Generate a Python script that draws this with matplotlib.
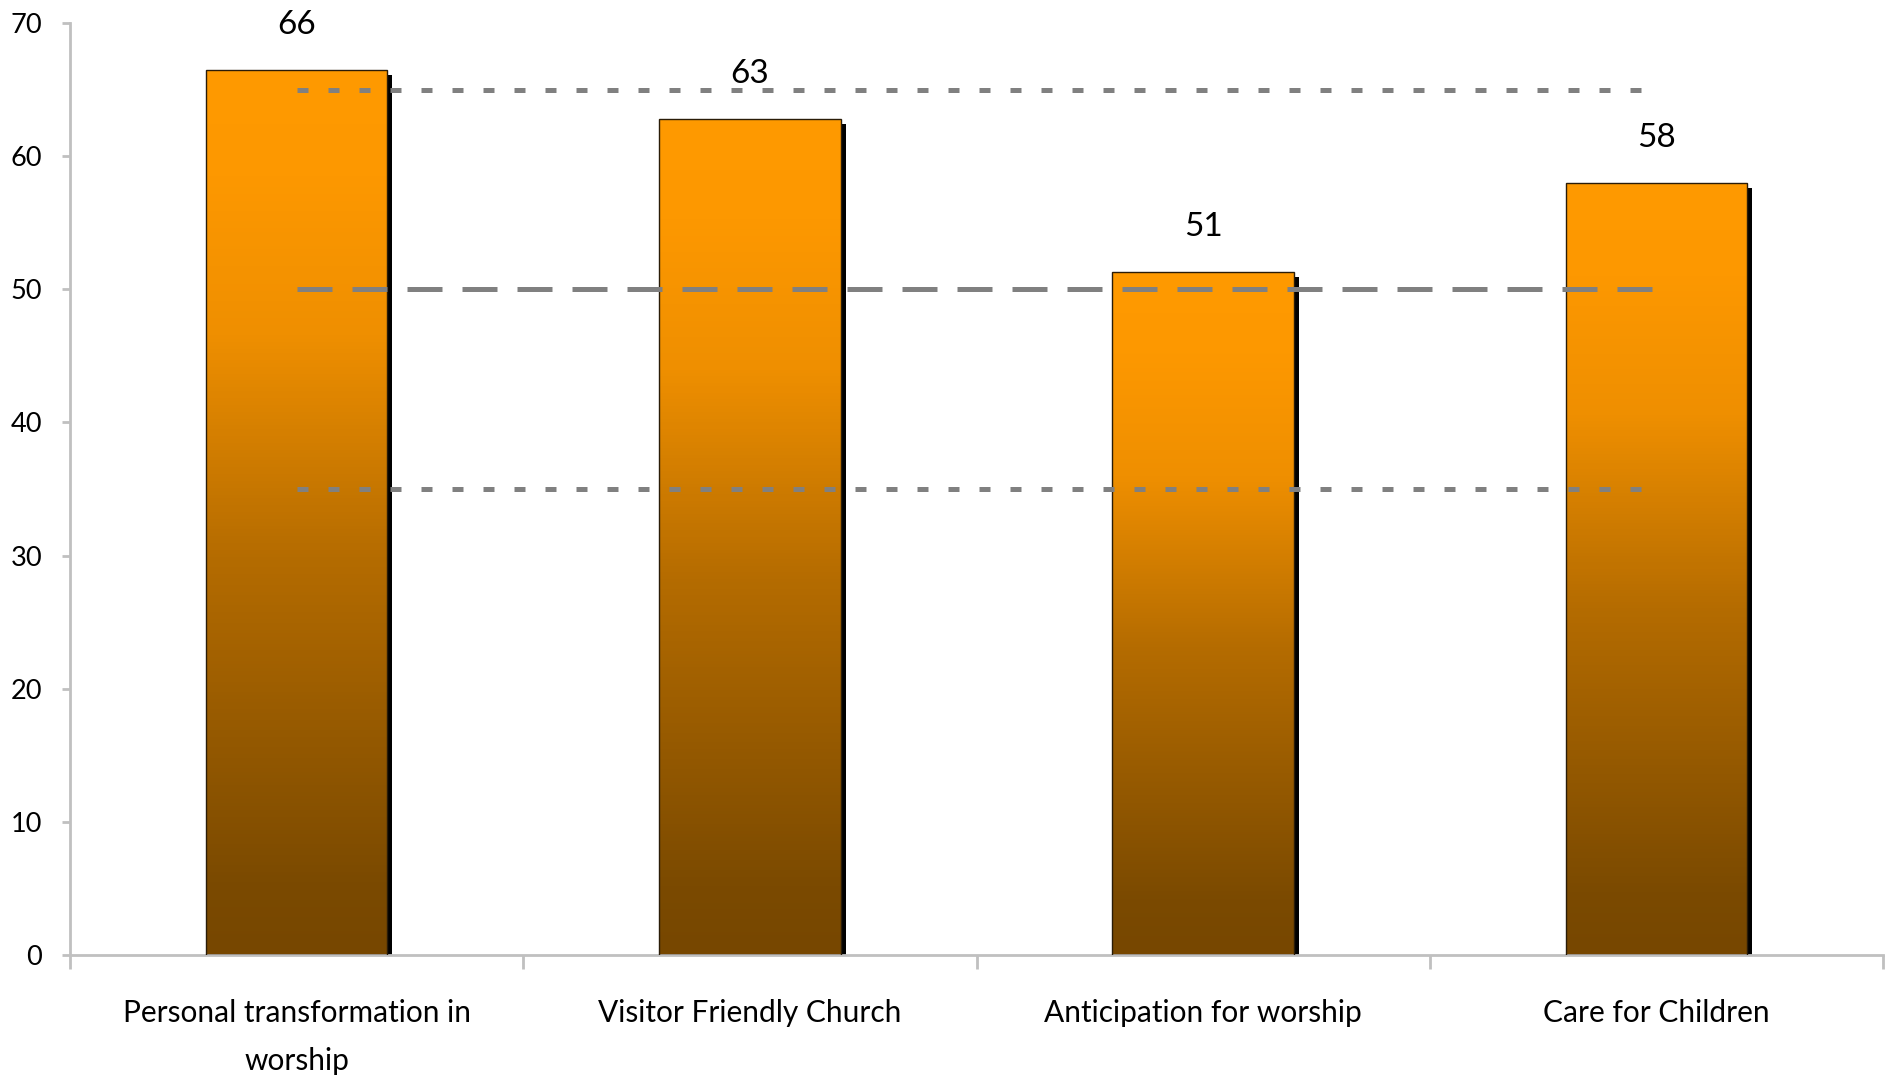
import numpy as np
import matplotlib
matplotlib.use('Agg')
import matplotlib.pyplot as plt
from matplotlib.colors import LinearSegmentedColormap
from matplotlib.transforms import ScaledTranslation

categories = ['Personal transformation in\nworship', 'Visitor Friendly Church',
              'Anticipation for worship', 'Care for Children']
values = [66.5, 62.8, 51.3, 58.0]
labels = ['66', '63', '51', '58']
ref_dotted = [65, 35]
ref_dashed = [50]

plt.rcParams['font.family'] = ['Lato', 'DejaVu Sans']

fig = plt.figure(figsize=(18.91, 10.80), dpi=100)
ax = fig.add_axes([0.037, 0.1157, 0.9588, 0.863])

x = np.arange(len(categories))
width = 0.4

# gradient from dark brown at the bottom to orange at the top
cmap = LinearSegmentedColormap.from_list('bar', [
    (0.0, '#774700'), (0.08, '#7b4a00'), (0.45, '#b56c00'),
    (0.7, '#ef8f00'), (0.88, '#fd9800'), (1.0, '#ff9a00')])
grad = np.linspace(0, 1, 256).reshape(-1, 1)

# shadow bars, shifted right/down a few pixels
shadow = ax.bar(x, values, width, color='black', zorder=1)
shift = ax.transData + ScaledTranslation(5 / 100, -5 / 100, fig.dpi_scale_trans)
for b in shadow:
    b.set_transform(shift)

bars = ax.bar(x, values, width, color='none', edgecolor='#2a1c08', linewidth=1, zorder=3)
for b, v in zip(bars, values):
    x0 = b.get_x()
    im = ax.imshow(grad, extent=[x0, x0 + width, 0, v], origin='lower', aspect='auto',
                   cmap=cmap, zorder=2)
    im.set_clip_path(b)

for xi, v, lab in zip(x, values, labels):
    ax.annotate(lab, (xi, v), xytext=(0, 30), textcoords='offset pixels',
                ha='center', va='bottom', fontsize=24)

for y in ref_dotted:
    ax.plot([x[0], x[-1]], [y, y], color='#808080', lw=3.6, dashes=(2.2, 4), zorder=4)
for y in ref_dashed:
    ax.plot([x[0], x[-1] + 0.01], [y, y], color='#808080', lw=3.6, dashes=(7, 4), zorder=4)

ax.set_xlim(-0.5, 3.5)
ax.set_ylim(0, 70)
ax.set_yticks(range(0, 71, 10))
ax.set_xticks(np.arange(-0.5, 4, 1))
ax.set_xticklabels([])
ax.set_xticks(x, minor=True)
ax.set_xticklabels(categories, minor=True, fontsize=21.5, linespacing=1.85, va='top')
ax.tick_params(axis='x', which='minor', length=0, pad=32)
ax.tick_params(axis='x', which='major', length=10, color='#c0c0c0', width=2)
ax.tick_params(axis='y', length=6, color='#c0c0c0', width=2, labelsize=19.5, pad=14)

for s in ['top', 'right']:
    ax.spines[s].set_visible(False)
for s in ['left', 'bottom']:
    ax.spines[s].set_color('#c0c0c0')
    ax.spines[s].set_linewidth(2)

fig.savefig('out.png', dpi=100)
